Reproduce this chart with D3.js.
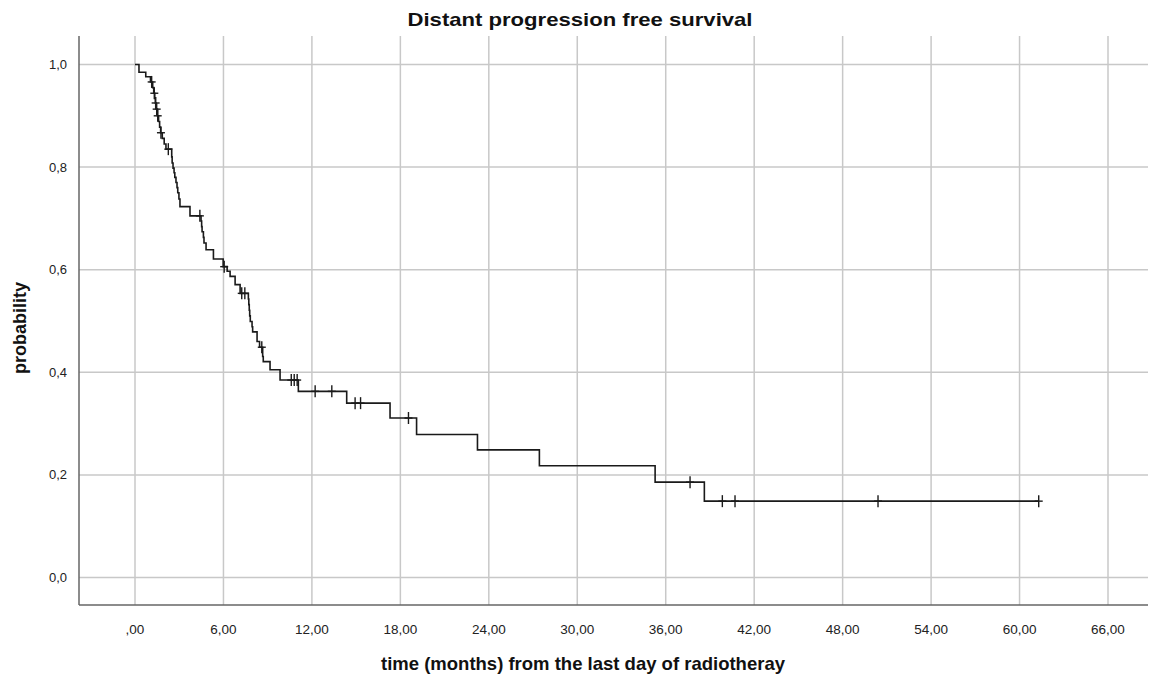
<!DOCTYPE html>
<html><head><meta charset="utf-8">
<script src="https://cdn.jsdelivr.net/npm/d3@7"></script>
<style>body{margin:0;background:#fff;} svg{display:block;font-family:"Liberation Sans",Arial,sans-serif;}</style>
</head><body>
<svg id="c" width="1161" height="677"></svg>
<script>
// Step times (months) and survival after each step
const stepTimes = [0.27,0.73,1.05,1.20,1.27,1.34,1.38,1.44,1.52,1.60,1.67,1.74,1.85,1.98,2.10,
  2.49,2.52,2.58,2.65,2.70,2.78,2.85,2.90,2.98,3.05,3.73,4.48,4.52,4.55,4.64,4.68,4.82,5.32,5.98,
  6.25,6.45,6.79,7.13,7.69,7.72,7.75,7.78,7.82,7.94,7.98,8.28,8.45,8.66,8.70,9.16,9.84,11.08,14.36,
  17.30,19.10,23.23,27.43,35.28,38.62];
const stepSurv = [0.985,0.976,0.966,0.955,0.944,0.935,0.925,0.913,0.900,0.889,0.878,0.867,0.856,0.845,0.835,
  0.820,0.808,0.798,0.789,0.780,0.770,0.760,0.750,0.738,0.723,0.705,0.695,0.684,0.674,0.663,0.652,0.639,0.621,0.606,
  0.597,0.587,0.571,0.554,0.543,0.532,0.521,0.510,0.499,0.489,0.479,0.460,0.449,0.431,0.421,0.405,0.385,0.363,0.340,
  0.311,0.279,0.249,0.218,0.186,0.149];
const lastTime = 61.3;
// Censored times
const censorTimes = [1.13,1.31,1.40,1.47,1.54,1.76,2.26,4.40,6.05,7.24,7.45,8.60,10.60,10.80,11.00,
  12.22,13.35,14.93,15.30,18.55,37.65,39.84,40.70,50.40,61.30];
const xTicks = [0,6,12,18,24,30,36,42,48,54,60,66];
const yTicks = [0,0.2,0.4,0.6,0.8,1.0];
const title = "Distant progression free survival";
const xTitle = "time (months) from the last day of radiotheray";
const yTitle = "probability";

const svg = d3.select("#c");
const plot = {left:79, right:1148, top:36, bottom:605};
const x = d3.scaleLinear().domain([0,66]).range([135,1108]);
const y = d3.scaleLinear().domain([0,1]).range([577.6,64.5]);

// gridlines
svg.append("g").selectAll("line").data(xTicks).join("line")
  .attr("x1",d=>x(d)).attr("x2",d=>x(d)).attr("y1",plot.top).attr("y2",plot.bottom)
  .attr("stroke","#c8c8c8").attr("stroke-width",1.5);
svg.append("g").selectAll("line").data(yTicks).join("line")
  .attr("y1",d=>y(d)).attr("y2",d=>y(d)).attr("x1",plot.left).attr("x2",plot.right)
  .attr("stroke","#c8c8c8").attr("stroke-width",1.5);
// axis lines
svg.append("line").attr("x1",plot.left).attr("x2",plot.left).attr("y1",plot.top).attr("y2",plot.bottom)
  .attr("stroke","#666").attr("stroke-width",1.5);
svg.append("line").attr("x1",plot.left).attr("x2",plot.right).attr("y1",plot.bottom).attr("y2",plot.bottom)
  .attr("stroke","#666").attr("stroke-width",1.5);

// tick labels
const fmtX = d => d===0 ? ",00" : d3.format(".2f")(d).replace(".",",");
svg.append("g").selectAll("text").data(xTicks).join("text")
  .attr("x",d=>x(d)).attr("y",634).attr("text-anchor","middle")
  .attr("font-size",13.5).attr("fill","#222").text(fmtX);
svg.append("g").selectAll("text").data(yTicks).join("text")
  .attr("x",67).attr("y",d=>y(d)+4.5).attr("text-anchor","end")
  .attr("font-size",13).attr("fill","#222").text(d=>d3.format(".1f")(d).replace(".",","));

// titles
svg.append("text").attr("x",580).attr("y",26).attr("text-anchor","middle")
  .attr("font-size",19).attr("font-weight","bold").attr("fill","#111")
  .attr("textLength",345).attr("lengthAdjust","spacingAndGlyphs").text(title);
svg.append("text").attr("x",583).attr("y",670).attr("text-anchor","middle")
  .attr("font-size",18.5).attr("font-weight","bold").attr("fill","#111").text(xTitle);
svg.append("text").attr("transform","translate(26,328) rotate(-90)").attr("text-anchor","middle")
  .attr("font-size",18).attr("font-weight","bold").attr("fill","#111").text(yTitle);

// KM step curve
const pts = [[0,1]];
stepTimes.forEach((t,i)=>pts.push([t,stepSurv[i]]));
pts.push([lastTime, stepSurv[stepSurv.length-1]]);
const line = d3.line().x(d=>x(d[0])).y(d=>y(d[1])).curve(d3.curveStepAfter);
svg.append("path").attr("d",line(pts)).attr("fill","none").attr("stroke","#1a1a1a").attr("stroke-width",1.6);

function survAt(t){
  let s=1; for(let i=0;i<stepTimes.length;i++){ if(stepTimes[i]<=t) s=stepSurv[i]; } return s;
}
const cg = svg.append("g").attr("stroke","#1a1a1a").attr("stroke-width",1.4);
censorTimes.forEach(t=>{
  const cx=x(t), cy=y(survAt(t));
  cg.append("line").attr("x1",cx).attr("x2",cx).attr("y1",cy-6).attr("y2",cy+6);
  cg.append("line").attr("x1",cx-4).attr("x2",cx+4).attr("y1",cy).attr("y2",cy);
});
</script>
</body></html>
